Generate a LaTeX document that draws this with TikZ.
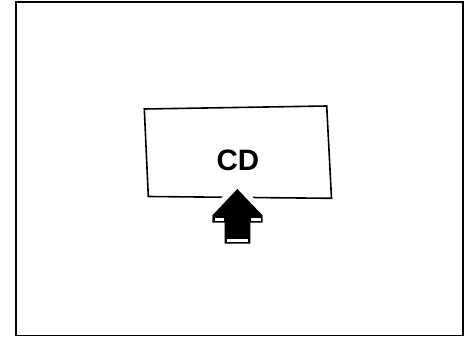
\documentclass[tikz,border=0pt]{standalone}
\usepackage{fontspec}
\newfontfamily\hv{Liberation Sans}
\begin{document}
\begin{tikzpicture}[x=1pt,y=-1pt,
  frame/.style={draw=black,line width=1.2pt},
  panel/.style={draw=black,line width=1.6pt,line join=miter},
  bigarrow/.style={fill=black,preaction={draw=white,line width=11pt,line join=round}},
  stripe/.style={fill=white},
  label/.style={font=\hv\bfseries\fontsize{29.5}{34}\selectfont, inner sep=0pt}]
\useasboundingbox (0,0) rectangle (465,339);
\draw[frame] (16,2) rectangle (463,335.5);
\draw[panel] (144.3,109) -- (326.7,106) -- (331.5,198.3) -- (148.3,196.5) -- cycle;
\node[label] (cd) at (237.8,160.3) {CD};
\fill[bigarrow] (237.3,189) -- (212.3,215.5) -- (212.3,222.7) -- (224.5,222.7) -- (224.5,243.5)
  -- (250.3,243.5) -- (250.3,222.7) -- (262.7,222.7) -- (262.7,215.5) -- cycle;
\fill[stripe] (214.5,217.6) rectangle (224,220.8);
\fill[stripe] (250.8,217.6) rectangle (260.6,220.8);
\fill[stripe] (227.2,238.6) rectangle (247.8,241.6);
\end{tikzpicture}
\end{document}
